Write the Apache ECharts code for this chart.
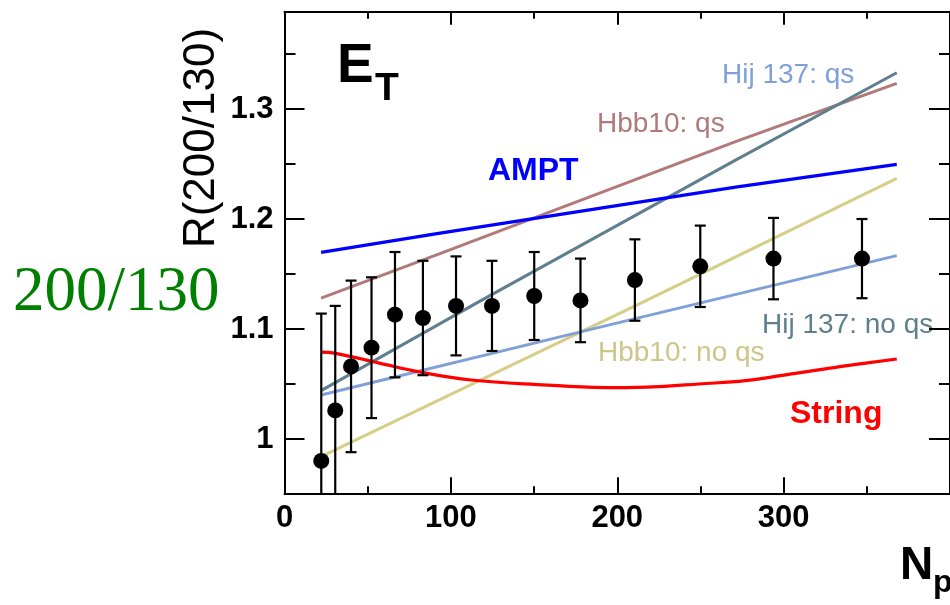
<!DOCTYPE html>
<html>
<head>
<meta charset="utf-8">
<script src="https://cdn.jsdelivr.net/npm/echarts@6/dist/echarts.min.js"></script>
<style>
html,body{margin:0;padding:0;background:#fff;}
#chart{width:950px;height:605px;}
</style>
</head>
<body>
<div id="chart"></div>
<script>
// ---- data ----
const npart    = [22.1, 30.5, 40.0, 52.3, 66.4, 83.2, 103.1, 124.7, 150.1, 177.9, 210.6, 249.9, 293.9, 347.1];
const ratio    = [0.980, 1.026, 1.066, 1.083, 1.113, 1.110, 1.121, 1.121, 1.130, 1.126, 1.1445, 1.157, 1.164, 1.164];
const ratioErr = [0.134, 0.095, 0.078, 0.064, 0.057, 0.052, 0.045, 0.041, 0.040, 0.038, 0.037, 0.037, 0.037, 0.036];

const amptX   = [22, 92.6, 271.1, 368];
const amptY   = [1.1697, 1.187, 1.229, 1.2497];
const hbbQsX  = [22, 92.6, 271.1, 368];
const hbbQsY  = [1.128, 1.168, 1.2703, 1.3234];
const hijQsX  = [22, 118.3, 271.1, 368];
const hijQsY  = [1.044, 1.126, 1.2536, 1.333];
const hbbNoX  = [22, 217.6, 368];
const hbbNoY  = [0.984, 1.126, 1.237];
const hijNoX  = [22, 187.8, 368];
const hijNoY  = [1.040, 1.101, 1.1667];
const strX    = [22, 30, 57, 81, 112, 158, 186, 200, 225, 249, 277, 307, 337, 368];
const strY    = [1.079, 1.078, 1.069, 1.061, 1.0536, 1.049, 1.047, 1.0466, 1.0476, 1.050, 1.053, 1.0597, 1.0664, 1.0727];

const xTickLabels = ['0', '100', '200', '300'];
const yTickLabels = ['1', '1.1', '1.2', '1.3'];

// ---- helpers ----
const zip = (xs, ys) => xs.map((x, i) => [x, ys[i]]);
const C = {
  ampt: '#0000ff', str: '#ff0000', hbbQs: '#b07a7a', hijQs: '#5f7f8f',
  hijNo: '#80a0d8', hbbNo: '#d6ce88', hijQsLabel: '#80a0d8', hijNoLabel: '#5f7f8f', hbbNoLabel: '#cfc58a'
};
const SANS = '"Liberation Sans", Arial, Helvetica, sans-serif';

function lineSeries(name, xs, ys, color, w, smooth) {
  return {
    name, type: 'line', xAxisIndex: 0, yAxisIndex: 0,
    data: zip(xs, ys), showSymbol: false, symbol: 'none', smooth: smooth || false,
    lineStyle: { color, width: w }, z: 2, animation: false, silent: true
  };
}

const gridL = 284.5, gridT = 11.7, gridW = 672;
const yMinA = 0.9506, yMaxA = 1.3885;

const chart = echarts.init(document.getElementById('chart'), null, { renderer: 'canvas' });

const axisLineStyle = { show: true, onZero: false, lineStyle: { color: '#000', width: 2 } };

const option = {
  backgroundColor: '#ffffff',
  animation: false,
  grid: [
    { left: gridL, top: gridT, width: gridW, height: 481.6, containLabel: false },
    { left: gridL, top: gridT, width: gridW, height: 427.3, containLabel: false }
  ],
  xAxis: [
    { gridIndex: 0, type: 'value', min: 0, max: 400, interval: 100, position: 'bottom',
      axisLine: axisLineStyle,
      axisTick: { show: true, inside: true, length: 16, lineStyle: { color: '#000', width: 2 } },
      minorTick: { show: true, splitNumber: 2, length: 7, lineStyle: { color: '#000', width: 2 } },
      splitLine: { show: false }, minorSplitLine: { show: false },
      axisLabel: { show: true, margin: 10, showMaxLabel: false, color: '#000',
        fontFamily: SANS, fontWeight: 'bold', fontSize: 31,
        formatter: v => { const i = Math.round(v / 100); return (Math.abs(v - i * 100) < 1e-6 && i < xTickLabels.length) ? xTickLabels[i] : ''; } }
    },
    { gridIndex: 0, type: 'value', min: 0, max: 400, interval: 100, position: 'top',
      axisLine: axisLineStyle,
      axisTick: { show: true, inside: true, length: 13, lineStyle: { color: '#000', width: 2 } },
      minorTick: { show: true, splitNumber: 2, length: 7, lineStyle: { color: '#000', width: 2 } },
      splitLine: { show: false }, axisLabel: { show: false }
    },
    { gridIndex: 1, type: 'value', min: 0, max: 400, show: false }
  ],
  yAxis: [
    { gridIndex: 0, type: 'value', min: yMinA, max: yMaxA, position: 'left',
      axisLine: axisLineStyle, axisTick: { show: false }, axisLabel: { show: false }, splitLine: { show: false } },
    { gridIndex: 0, type: 'value', min: yMinA, max: yMaxA, position: 'right',
      axisLine: axisLineStyle, axisTick: { show: false }, axisLabel: { show: false }, splitLine: { show: false } },
    { gridIndex: 1, type: 'value', min: 1.0, max: yMaxA, interval: 0.1, position: 'left',
      axisLine: { show: false, onZero: false },
      axisTick: { show: true, inside: true, length: 20, lineStyle: { color: '#000', width: 2 } },
      minorTick: { show: true, splitNumber: 2, length: 11, lineStyle: { color: '#000', width: 2 } },
      splitLine: { show: false }, minorSplitLine: { show: false },
      axisLabel: { show: true, margin: 11, showMaxLabel: false, color: '#000', padding: [8, 0, 0, 0],
        fontFamily: SANS, fontWeight: 'bold', fontSize: 31,
        formatter: v => { const i = Math.round((v - 1) / 0.1); return (Math.abs(v - 1 - i * 0.1) < 1e-6 && i < yTickLabels.length) ? yTickLabels[i] : ''; } }
    },
    { gridIndex: 1, type: 'value', min: 1.0, max: yMaxA, interval: 0.1, position: 'right',
      axisLine: { show: false, onZero: false },
      axisTick: { show: true, inside: true, length: 21, lineStyle: { color: '#000', width: 2 } },
      minorTick: { show: true, splitNumber: 2, length: 11, lineStyle: { color: '#000', width: 2 } },
      splitLine: { show: false }, axisLabel: { show: false }
    }
  ],
  series: [
    lineSeries('Hbb10: no qs', hbbNoX, hbbNoY, C.hbbNo, 3),
    lineSeries('Hij 137: no qs', hijNoX, hijNoY, C.hijNo, 3),
    lineSeries('Hbb10: qs', hbbQsX, hbbQsY, C.hbbQs, 3),
    lineSeries('Hij 137: qs', hijQsX, hijQsY, C.hijQs, 3),
    lineSeries('AMPT', amptX, amptY, C.ampt, 3.2),
    lineSeries('String', strX, strY, C.str, 3.2, 0.4),
    {
      name: 'errors', type: 'custom', xAxisIndex: 0, yAxisIndex: 0, z: 5, silent: true,
      data: npart.map((x, i) => [x, ratio[i], ratioErr[i]]),
      renderItem: function (params, api) {
        const x = api.value(0), y = api.value(1), e = api.value(2);
        const cs = params.coordSys;
        const top = api.coord([x, y + e]);
        const bot = api.coord([x, y - e]);
        const yTopLim = cs.y, yBotLim = cs.y + cs.height;
        const children = [];
        const t = Math.max(top[1], yTopLim), b = Math.min(bot[1], yBotLim);
        const st = { stroke: '#000', lineWidth: 2.2 };
        children.push({ type: 'line', shape: { x1: top[0], y1: t, x2: bot[0], y2: b }, style: st });
        const hw = 5.5;
        if (top[1] >= yTopLim) children.push({ type: 'line', shape: { x1: top[0] - hw, y1: top[1], x2: top[0] + hw, y2: top[1] }, style: st });
        if (bot[1] <= yBotLim) children.push({ type: 'line', shape: { x1: bot[0] - hw, y1: bot[1], x2: bot[0] + hw, y2: bot[1] }, style: st });
        return { type: 'group', children };
      }
    },
    {
      name: 'data', type: 'scatter', xAxisIndex: 0, yAxisIndex: 0, z: 6, silent: true,
      data: zip(npart, ratio), symbol: 'circle', symbolSize: 16,
      itemStyle: { color: '#000', opacity: 1 }
    }
  ],
  graphic: [
    { type: 'text', x: 337, y: 67, style: { text: 'E', font: 'bold 55px ' + SANS, fill: '#000', verticalAlign: 'middle', align: 'left' } },
    { type: 'text', x: 375, y: 89, style: { text: 'T', font: 'bold 39px ' + SANS, fill: '#000', verticalAlign: 'middle', align: 'left' } },
    { type: 'text', x: 488, y: 171.5, style: { text: 'AMPT', font: 'bold 32px ' + SANS, fill: C.ampt, verticalAlign: 'middle', align: 'left' } },
    { type: 'text', x: 597, y: 124.5, style: { text: 'Hbb10: qs', font: '28px ' + SANS, fill: C.hbbQs, verticalAlign: 'middle', align: 'left' } },
    { type: 'text', x: 722, y: 75, style: { text: 'Hij 137: qs', font: '28px ' + SANS, fill: C.hijQsLabel, verticalAlign: 'middle', align: 'left' } },
    { type: 'text', x: 762, y: 325, style: { text: 'Hij 137: no qs', font: '28px ' + SANS, fill: C.hijNoLabel, verticalAlign: 'middle', align: 'left' } },
    { type: 'text', x: 598, y: 353, style: { text: 'Hbb10: no qs', font: '28px ' + SANS, fill: C.hbbNoLabel, verticalAlign: 'middle', align: 'left' } },
    { type: 'text', x: 790, y: 414, style: { text: 'String', font: 'bold 32px ' + SANS, fill: C.str, verticalAlign: 'middle', align: 'left' } },
    { type: 'text', x: 202, y: 138, rotation: Math.PI / 2, style: { text: 'R(200/130)', font: '44px ' + SANS, fill: '#000', verticalAlign: 'middle', align: 'center' } },
    { type: 'text', x: 13, y: 293.7, style: { text: '200/130', font: '63px "Liberation Serif", "Times New Roman", serif', fill: '#008000', verticalAlign: 'middle', align: 'left' } },
    { type: 'text', x: 900, y: 566.5, style: { text: 'N', font: 'bold 46px ' + SANS, fill: '#000', verticalAlign: 'middle', align: 'left' } },
    { type: 'text', x: 933, y: 583.5, style: { text: 'part', font: 'bold 32px ' + SANS, fill: '#000', verticalAlign: 'middle', align: 'left' } }
  ]
};
chart.setOption(option);
</script>
</body>
</html>
